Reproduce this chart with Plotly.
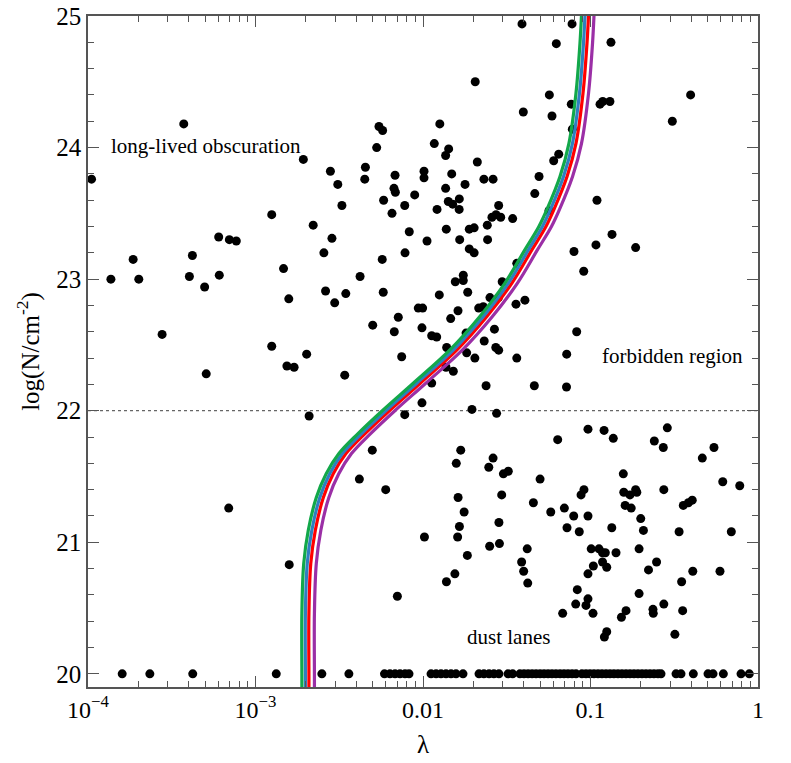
import plotly.graph_objects as go

# ---------------- scatter data: lambda and log(N/cm^-2) ----------------
lam_upper_left = [1.05e-4, 1.37e-4, 1.86e-4, 2.01e-4, 2.77e-4, 3.73e-4, 4.03e-4, 4.20e-4,
                  4.97e-4, 5.08e-4, 6.03e-4, 6.08e-4, 6.98e-4, 7.68e-4, 1.25e-3, 1.25e-3]
logn_upper_left = [23.76, 23.00, 23.15, 23.00, 22.58, 24.18, 23.02, 23.18,
                   22.94, 22.28, 23.32, 23.03, 23.30, 23.29, 23.49, 22.49]

lam_upper_mid = [5.46e-3, 5.74e-3, 5.29e-3, 0.0126, 0.01168, 0.01423, 0.01365, 1.93e-3,
                 2.80e-3, 4.53e-3, 4.49e-3, 3.10e-3, 6.81e-3, 6.71e-3, 6.84e-3, 0.01014,
                 0.01014, 0.01484, 0.01782, 0.01365, 8.92e-3, 5.82e-3, 3.28e-3, 7.78e-3,
                 6.53e-3, 0.01213, 0.01416, 0.01504, 0.01647, 0.01644, 2.21e-3, 2.86e-3,
                 8.28e-3, 0.01057, 0.01377, 0.01656, 0.01889, 2.56e-3, 7.81e-3, 5.71e-3,
                 0.01889, 1.47e-3, 4.21e-3, 0.0174, 0.01559, 0.0174, 0.01849, 2.62e-3,
                 5.79e-3, 3.46e-3, 0.01251, 1.58e-3, 2.97e-3, 9.37e-3, 9.95e-3, 0.01618,
                 7.12e-3, 0.01463, 5.01e-3, 6.74e-3, 9.86e-3, 0.01127, 0.01207, 0.01385,
                 0.01807, 0.01823, 2.02e-3, 7.46e-3, 1.54e-3, 1.70e-3, 3.41e-3, 0.01372,
                 0.01517, 0.01127, 9.86e-3, 7.78e-3, 2.09e-3]
logn_upper_mid = [24.16, 24.13, 24.00, 24.18, 24.03, 23.99, 23.94, 23.91,
                  23.82, 23.85, 23.76, 23.72, 23.79, 23.69, 23.66, 23.82,
                  23.77, 23.80, 23.72, 23.69, 23.64, 23.60, 23.56, 23.56,
                  23.50, 23.53, 23.59, 23.57, 23.61, 23.53, 23.41, 23.31,
                  23.36, 23.29, 23.38, 23.30, 23.38, 23.20, 23.20, 23.15,
                  23.23, 23.08, 23.02, 23.03, 22.98, 22.99, 22.90, 22.91,
                  22.90, 22.89, 22.88, 22.85, 22.82, 22.78, 22.78, 22.76,
                  22.71, 22.70, 22.65, 22.60, 22.63, 22.57, 22.56, 22.48,
                  22.59, 22.44, 22.43, 22.41, 22.34, 22.33, 22.27, 22.33,
                  22.30, 22.21, 22.06, 21.97, 21.96]

lam_upper_right = [0.0390, 0.0776, 0.0625, 0.1325, 0.0205, 0.0568, 0.0768, 0.0397,
                   0.0589, 0.1140, 0.1183, 0.1306, 0.0779, 0.0646, 0.0603, 0.0211,
                   0.0231, 0.0262, 0.0493, 0.0465, 0.0283, 0.0565, 0.1093, 0.0258,
                   0.0273, 0.0291, 0.0343, 0.0242, 0.0202, 0.0243, 0.0202, 0.0797,
                   0.1078, 0.1344, 0.0363, 0.0911, 0.0297, 0.0251, 0.0282, 0.0359,
                   0.0406, 0.0215, 0.0229, 0.0267, 0.0232, 0.0827, 0.0204, 0.0272,
                   0.0283, 0.0363, 0.0721, 0.0238, 0.0462, 0.0719,
                   0.396, 0.308, 0.186]
logn_upper_right = [24.94, 24.94, 24.79, 24.80, 24.50, 24.40, 24.33, 24.27,
                    24.24, 24.33, 24.35, 24.35, 24.14, 23.95, 23.90, 23.89,
                    23.76, 23.76, 23.78, 23.65, 23.56, 23.52, 23.60, 23.47,
                    23.49, 23.47, 23.46, 23.41, 23.39, 23.30, 23.20, 23.21,
                    23.26, 23.34, 23.12, 23.06, 22.98, 22.86, 22.86, 22.81,
                    22.84, 22.78, 22.79, 22.62, 22.53, 22.60, 22.40, 22.48,
                    22.46, 22.40, 22.43, 22.19, 22.19, 22.18,
                    24.40, 24.20, 23.24]

lam_lower = [4.98e-3, 4.17e-3, 5.99e-3, 6.92e-4, 1.59e-3, 7.03e-3,
             0.0196, 0.0275, 0.0966, 0.1205, 0.1368, 0.0637, 0.2875, 0.2404,
             0.272, 0.0168, 0.0158, 0.0262, 0.0247, 0.546, 0.465, 0.157,
             0.0302, 0.0323, 0.0500, 0.616, 0.778, 0.0914, 0.0878, 0.158,
             0.172, 0.186, 0.189, 0.274, 0.0162, 0.0295, 0.0456, 0.0698,
             0.161, 0.175, 0.358, 0.384, 0.405, 0.0176, 0.0579, 0.0794,
             0.0966, 0.1995, 0.0165, 0.0284, 0.0724, 0.0857, 0.134, 0.207,
             0.338, 0.693, 0.0102, 0.0161, 0.0250, 0.0286, 0.0419, 0.101,
             0.1124, 0.118, 0.1226, 0.142, 0.195, 0.0184, 0.0388, 0.0399,
             0.0422, 0.104, 0.118, 0.125, 0.248, 0.222, 0.0966, 0.408,
             0.593, 0.0155, 0.0138, 0.350, 0.0834, 0.195, 0.0966, 0.0940,
             0.0816, 0.274, 0.0682, 0.1035, 0.163, 0.153, 0.236, 0.237,
             0.355, 0.125, 0.121, 0.319]
logn_lower = [21.70, 21.48, 21.40, 21.26, 20.83, 20.59,
              22.01, 21.98, 21.86, 21.85, 21.79, 21.78, 21.87, 21.77,
              21.72, 21.70, 21.60, 21.64, 21.57, 21.72, 21.64, 21.52,
              21.52, 21.54, 21.48, 21.46, 21.43, 21.40, 21.36, 21.38,
              21.36, 21.40, 21.38, 21.40, 21.34, 21.36, 21.30, 21.26,
              21.28, 21.26, 21.28, 21.30, 21.32, 21.23, 21.23, 21.20,
              21.20, 21.18, 21.12, 21.15, 21.11, 21.08, 21.11, 21.09,
              21.08, 21.08, 21.04, 21.04, 20.97, 20.99, 20.95, 20.95,
              20.95, 20.92, 20.92, 20.92, 20.95, 20.90, 20.85, 20.78,
              20.69, 20.82, 20.85, 20.81, 20.85, 20.79, 20.76, 20.78,
              20.78, 20.76, 20.70, 20.70, 20.64, 20.61, 20.57, 20.52,
              20.53, 20.53, 20.46, 20.46, 20.48, 20.43, 20.49, 20.46,
              20.48, 20.32, 20.28, 20.30]

lam_floor = [1.60e-4, 2.34e-4, 4.22e-4, 1.33e-3, 2.49e-3, 3.61e-3, 5.89e-3, 6.35e-3,
             6.81e-3, 7.29e-3, 7.81e-3, 8.25e-3, 0.01117, 0.01197, 0.01281, 0.01372,
             0.01470, 0.01574, 0.01733, 0.0216, 0.0231, 0.0248, 0.0265, 0.0284,
             0.0322, 0.0343, 0.0379, 0.0401, 0.0424, 0.0448, 0.0473, 0.0500,
             0.0528, 0.0558, 0.0589, 0.0622, 0.0658, 0.0695, 0.0734, 0.0776,
             0.0819, 0.0889, 0.0940, 0.0993, 0.1049, 0.1109, 0.1171, 0.1238,
             0.1307, 0.1380, 0.1459, 0.1541, 0.1629, 0.1721, 0.1818, 0.1921,
             0.2030, 0.2144, 0.2265, 0.2393, 0.2529, 0.2636, 0.324, 0.347,
             0.411, 0.503, 0.539, 0.621, 0.792, 0.887]
logn_floor = [20.0] * len(lam_floor)

# ---------------- model curves ----------------
curve_logn = [19.9, 20.0, 20.46, 20.84, 21.09, 21.34, 21.52, 21.674, 21.826, 22.0, 22.207,
              22.46, 22.714, 22.968, 23.22, 23.40, 23.53, 23.78, 24.03, 24.41, 24.79, 25.0]
curve_green = [1.892e-3, 1.892e-3, 1.892e-3, 1.941e-3, 2.065e-3, 2.307e-3, 2.643e-3, 3.147e-3,
               4.092e-3, 5.715e-3, 8.709e-3, 0.01443, 0.02178, 0.03076, 0.04046, 0.04920,
               0.05495, 0.06576, 0.07430, 0.08185, 0.08650, 0.08830]
curve_blue = [1.986e-3, 1.986e-3, 1.986e-3, 2.037e-3, 2.168e-3, 2.421e-3, 2.774e-3, 3.303e-3,
              4.295e-3, 5.998e-3, 9.141e-3, 0.01514, 0.02286, 0.03228, 0.04247, 0.05164,
              0.05767, 0.06902, 0.07799, 0.08590, 0.09078, 0.09268]
curve_red = [2.084e-3, 2.084e-3, 2.084e-3, 2.138e-3, 2.275e-3, 2.541e-3, 2.911e-3, 3.467e-3,
             4.508e-3, 6.295e-3, 9.594e-3, 0.01589, 0.02399, 0.03388, 0.04457, 0.05420,
             0.06053, 0.07244, 0.08185, 0.09016, 0.09528, 0.09727]
curve_purple = [2.248e-3, 2.248e-3, 2.248e-3, 2.307e-3, 2.454e-3, 2.741e-3, 3.141e-3, 3.741e-3,
                4.864e-3, 6.792e-3, 0.01035, 0.01714, 0.02588, 0.03655, 0.04809, 0.05848,
                0.06531, 0.07816, 0.08831, 0.09727, 0.1028, 0.1049]

x_tickvals = [1e-4, 1e-3, 1e-2, 1e-1, 1]
x_ticktext = ["10<sup>\u22124</sup>", "10<sup>\u22123</sup>", "0.01", "0.1", "1"]
y_tickvals = [20, 21, 22, 23, 24, 25]

FONT = "Liberation Serif, Times New Roman, serif"
AXCOL = "#555555"

fig = go.Figure()

lam_all = lam_upper_left + lam_upper_mid + lam_upper_right + lam_lower + lam_floor
logn_all = logn_upper_left + logn_upper_mid + logn_upper_right + logn_lower + logn_floor
fig.add_trace(go.Scatter(x=lam_all, y=logn_all, mode="markers",
                         marker=dict(color="black", size=9, line=dict(width=0)),
                         showlegend=False, hoverinfo="skip"))

for lam_c, col in [(curve_purple, "#9b2fa6"), (curve_red, "#ff0000"),
                   (curve_blue, "#2f7fc0"), (curve_green, "#12a84a")]:
    fig.add_trace(go.Scatter(x=lam_c, y=curve_logn, mode="lines",
                             line=dict(color=col, width=3.2, shape="spline", smoothing=1.0),
                             showlegend=False, hoverinfo="skip"))

minor_x = [m * 10.0 ** e for e in range(-4, 0) for m in range(2, 10)]

# page body has an 8px margin, so the figure is 8px smaller and margins shifted
fig.update_layout(
    width=783, height=755,
    margin=dict(l=80, r=33, t=8, b=76, autoexpand=False),
    paper_bgcolor="white", plot_bgcolor="white",
    font=dict(family=FONT, color="black", size=22),
    shapes=[dict(type="line", xref="paper", yref="y", x0=0, x1=1, y0=22, y1=22,
                 line=dict(color="#666666", width=1.3, dash="3px,3px"), layer="below")],
    annotations=[
        dict(text="long-lived obscuration", xref="paper", yref="paper", x=0.031, y=0.806,
             xanchor="left", yanchor="middle", showarrow=False,
             font=dict(size=21, family=FONT, color="black")),
        dict(text="forbidden region", xref="paper", yref="paper", x=0.764, y=0.493,
             xanchor="left", yanchor="middle", showarrow=False,
             font=dict(size=21, family=FONT, color="black")),
        dict(text="dust lanes", xref="paper", yref="paper", x=0.563, y=0.0745,
             xanchor="left", yanchor="middle", showarrow=False,
             font=dict(size=21, family=FONT, color="black")),
    ],
)

fig.update_xaxes(type="log", range=[-4, 0], tickvals=x_tickvals, ticktext=x_ticktext,
                 ticks="inside", ticklen=11, tickwidth=1.2, tickcolor=AXCOL,
                 showline=True, linecolor=AXCOL, linewidth=1.5, mirror="allticks",
                 showgrid=False, zeroline=False, automargin=False, ticklabeloverflow="allow",
                 tickfont=dict(size=24, family=FONT, color="black"),
                 minor=dict(tickvals=minor_x, ticks="inside", ticklen=6, tickcolor=AXCOL,
                            tickwidth=1.2, showgrid=False),
                 title=dict(text="\u03bb", font=dict(size=25, family=FONT, color="black"),
                            standoff=14))
fig.update_yaxes(range=[19.9, 25.0], tickvals=y_tickvals,
                 ticks="inside", ticklen=11, tickwidth=1.2, tickcolor=AXCOL,
                 showline=True, linecolor=AXCOL, linewidth=1.5, mirror="allticks",
                 showgrid=False, zeroline=False, automargin=False, ticklabeloverflow="allow",
                 tickfont=dict(size=25, family=FONT, color="black"),
                 minor=dict(dtick=0.2, tick0=20, ticks="inside", ticklen=6, tickcolor=AXCOL,
                            tickwidth=1.2, showgrid=False),
                 title=dict(text="log(N/cm<sup>-2</sup>)",
                            font=dict(size=25, family=FONT, color="black"), standoff=10))

fig.write_html("out.html")
